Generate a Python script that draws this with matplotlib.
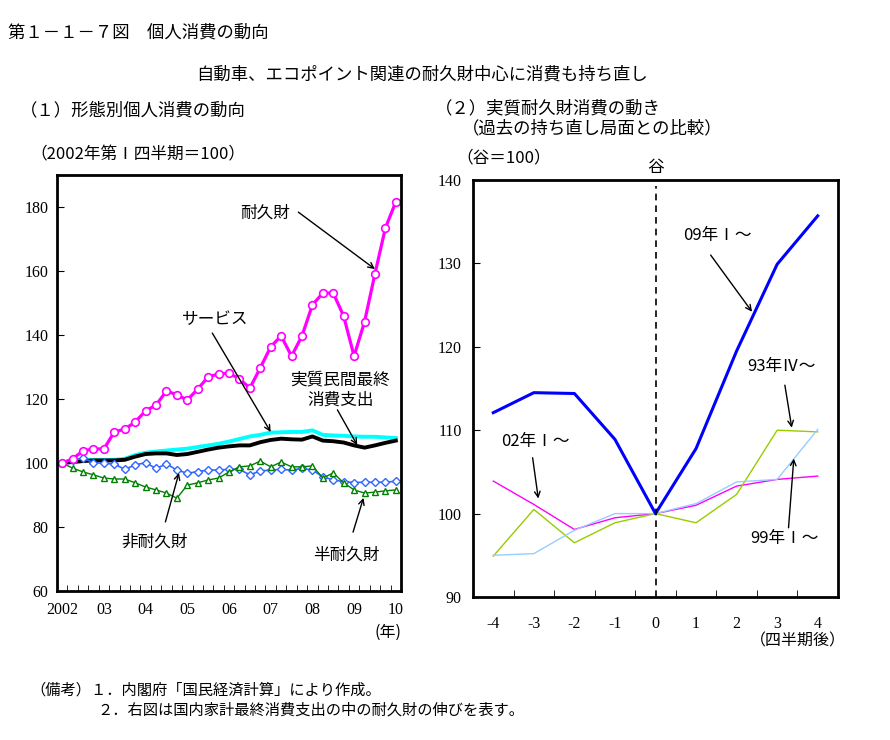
import matplotlib
matplotlib.use("Agg")
import matplotlib.pyplot as plt

plt.rcParams['font.family'] = ['Noto Sans CJK JP', 'DejaVu Sans']

# (1) 形態別個人消費の動向 2002Q1-2010Q1 (2002年第Ⅰ四半期=100)
year_labels = ['2002', '03', '04', '05', '06', '07', '08', '09', '10']
durables = [100, 101.3, 103.8, 104.4, 104.4, 109.7, 110.6, 112.8, 116.3, 118.1,
            122.5, 121.3, 119.7, 123.1, 126.9, 127.8, 128.1, 126.3, 123.4, 129.7,
            136.3, 139.7, 133.4, 139.7, 149.4, 153.1, 153.1, 145.9, 133.4, 144.1,
            159.1, 173.4, 181.6]
services = [100, 100.6, 101, 101, 101, 101, 101.3, 102.5, 103.2, 103.6,
            103.9, 104.2, 104.5, 105, 105.5, 106, 106.7, 107.5, 108.3, 108.8,
            109.5, 109.6, 109.7, 109.7, 110.2, 108.8, 108.6, 108.5, 108.3, 108.2,
            108.2, 108, 107.8]
total = [100, 100.3, 100.6, 100.8, 100.8, 100.8, 101, 102, 102.8, 103,
         103, 102.5, 102.8, 103.5, 104.2, 104.8, 105.2, 105.5, 105.5, 106.5,
         107.2, 107.6, 107.4, 107.3, 108.3, 107, 106.8, 106.4, 105.5, 104.8,
         105.5, 106.3, 107]
nondurables = [100, 101, 101.5, 100.1, 99.9, 99.7, 98, 99.4, 100.1, 98.3,
               99.7, 97.8, 96.8, 97.3, 97.8, 97.8, 98, 98, 96.3, 97.5,
               97.8, 98, 97.8, 98.3, 97.8, 95.7, 94.7, 94.2, 93.9, 94,
               94, 94, 94.3]
semidurables = [100, 98.4, 97.2, 96.3, 95.3, 95, 95, 93.8, 92.5, 91.6,
                90.6, 89, 93.1, 93.8, 94.7, 95.3, 97.2, 98.8, 99.1, 100.6,
                98.8, 100.3, 98.8, 98.8, 99.1, 95.3, 96.9, 93.8, 91.6, 90.6,
                90.9, 91.3, 91.6]

# (2) 実質耐久財消費の動き (谷=100)
quarters = [-4, -3, -2, -1, 0, 1, 2, 3, 4]
from_09q1 = [112.1, 114.5, 114.4, 108.9, 100, 107.8, 119.5, 129.9, 135.7]
from_02q1 = [103.9, 101.1, 98.1, 99.5, 100, 101, 103.3, 104.1, 104.5]
from_93q4 = [94.9, 100.5, 96.5, 98.9, 100, 98.9, 102.3, 110, 109.8]
from_99q1 = [95, 95.2, 98, 100, 100, 101.2, 103.8, 104.1, 110.1]

fig = plt.figure(figsize=(8.9, 7.4), dpi=100)

# 見出し
fig.text(8 / 890, 1 - 33 / 740, '第１－１－７図　個人消費の動向', fontsize=12.5, va='center')
fig.text(422 / 890, 1 - 75 / 740, '自動車、エコポイント関連の耐久財中心に消費も持ち直し',
         fontsize=12.5, va='center', ha='center')
fig.text(20 / 890, 1 - 110 / 740, '（１）形態別個人消費の動向', fontsize=12.5, va='center')
fig.text(30 / 890, 1 - 155 / 740, '（2002年第Ⅰ四半期＝100）', fontsize=12, va='center')
fig.text(435 / 890, 1 - 108 / 740, '（２）実質耐久財消費の動き', fontsize=12.5, va='center')
fig.text(462 / 890, 1 - 128 / 740, '（過去の持ち直し局面との比較）', fontsize=12.5, va='center')
fig.text(456 / 890, 1 - 158 / 740, '（谷＝100）', fontsize=12, va='center')
fig.text(30 / 890, 1 - 690 / 740, '（備考）１．内閣府「国民経済計算」により作成。', fontsize=11, va='center')
fig.text(97 / 890, 1 - 710 / 740, '２．右図は国内家計最終消費支出の中の耐久財の伸びを表す。',
         fontsize=11, va='center')

tick_font = {'family': ['Liberation Serif', 'DejaVu Sans'], 'size': 11.5}
arrow = dict(arrowstyle='->', color='black', lw=1, shrinkA=0, shrinkB=0)
lab_size = 12

# ---- 左図 ----
ax1 = fig.add_axes([57 / 890, 1 - 591 / 740, 344 / 890, 416 / 740])
x = list(range(len(durables)))
ax1.plot(x, services, color='#00FFFF', lw=2.8)
ax1.plot(x, total, color='black', lw=2.8)
ax1.plot(x, nondurables, color='#3366FF', lw=1.2, marker='D', ms=4,
         mfc='white', mec='#3366FF', mew=1)
ax1.plot(x, semidurables, color='#008000', lw=1, marker='^', ms=5,
         mfc='white', mec='#008000', mew=1)
ax1.plot(x, durables, color='#FF00FF', lw=2.3, marker='o', ms=5.5,
         mfc='white', mec='#FF00FF', mew=1.2)

ax1.set_xlim(-0.5, len(durables) - 0.5)
ax1.set_ylim(60, 190)
ax1.set_yticks([60, 80, 100, 120, 140, 160, 180])
ax1.set_xticks(range(0, len(durables), 4))
ax1.set_xticklabels(year_labels, fontdict=tick_font)
ax1.set_xticks([i + 0.5 for i in range(len(durables) - 1)], minor=True)
ax1.tick_params(axis='x', which='major', length=0, pad=8)
ax1.tick_params(axis='x', which='minor', direction='in', length=4)
ax1.tick_params(axis='y', direction='in', length=5, pad=6)
for lab in ax1.get_yticklabels():
    lab.set_fontproperties('Liberation Serif')
    lab.set_fontsize(11.5)
for s in ax1.spines.values():
    s.set_linewidth(2)
ax1.text(31.3, 47.2, '(年)', fontsize=11.5, ha='center', va='center', clip_on=False)

ax1.text(19.5, 178.1, '耐久財', fontsize=lab_size, ha='center', va='center')
ax1.annotate('', xy=(30.0, 160.6), xytext=(22.65, 178.4), arrowprops=arrow)
ax1.text(14.7, 144.7, 'サービス', fontsize=lab_size, ha='center', va='center')
ax1.annotate('', xy=(20.0, 109.7), xytext=(14.4, 140.6), arrowprops=arrow)
ax1.text(26.7, 122.8, '実質民間最終\n消費支出', fontsize=lab_size, ha='center', va='center',
         linespacing=1.2)
ax1.annotate('', xy=(28.3, 105.6), xytext=(26.4, 116.6), arrowprops=arrow)
ax1.text(8.9, 75.3, '非耐久財', fontsize=lab_size, ha='center', va='center')
ax1.annotate('', xy=(11.2, 96.9), xytext=(9.9, 81.6), arrowprops=arrow)
ax1.text(27.25, 71.25, '半耐久財', fontsize=lab_size, ha='center', va='center')
ax1.annotate('', xy=(28.9, 89.1), xytext=(27.9, 78.4), arrowprops=arrow)

# ---- 右図 ----
ax2 = fig.add_axes([473 / 890, 1 - 597 / 740, 365 / 890, 417 / 740])
ax2.plot(quarters, from_02q1, color='#FF00FF', lw=1)
ax2.plot(quarters, from_93q4, color='#99CC00', lw=1)
ax2.plot(quarters, from_99q1, color='#99CCFF', lw=1)
ax2.plot(quarters, from_09q1, color='#0000FF', lw=2.2)
ax2.axvline(0, ymax=0.985, color='black', lw=1.2, ls=(0, (4, 3)))

ax2.set_xlim(-4.5, 4.5)
ax2.set_ylim(90, 140)
ax2.set_yticks([90, 100, 110, 120, 130, 140])
ax2.set_xticks(quarters)
ax2.set_xticklabels([str(q) for q in quarters], fontdict=tick_font)
ax2.set_xticks([q + 0.5 for q in quarters[:-1]], minor=True)
ax2.tick_params(axis='x', which='major', length=0, pad=14)
ax2.tick_params(axis='x', which='minor', direction='in', length=5)
ax2.tick_params(axis='y', direction='in', length=5, pad=8)
for lab in ax2.get_yticklabels():
    lab.set_fontproperties('Liberation Serif')
    lab.set_fontsize(11.5)
for s in ax2.spines.values():
    s.set_linewidth(2)
ax2.text(0, 141.5, '谷', fontsize=lab_size, ha='center', va='center', clip_on=False)
ax2.text(3.5, 84.7, '（四半期後）', fontsize=11.5, ha='center', va='center', clip_on=False)

ax2.text(1.53, 133.4, '09年Ⅰ～', fontsize=lab_size, ha='center', va='center')
ax2.annotate('', xy=(2.38, 124.2), xytext=(1.36, 131.0), arrowprops=arrow)
ax2.text(3.11, 117.6, '93年Ⅳ～', fontsize=lab_size, ha='center', va='center')
ax2.annotate('', xy=(3.36, 110.3), xytext=(3.19, 115.4), arrowprops=arrow)
ax2.text(-2.96, 108.6, '02年Ⅰ～', fontsize=lab_size, ha='center', va='center')
ax2.annotate('', xy=(-2.89, 101.8), xytext=(-3.03, 106.7), arrowprops=arrow)
ax2.text(3.19, 97.0, '99年Ⅰ～', fontsize=lab_size, ha='center', va='center')
ax2.annotate('', xy=(3.41, 106.6), xytext=(3.28, 98.3), arrowprops=arrow)

fig.savefig('out.png', dpi=100)
